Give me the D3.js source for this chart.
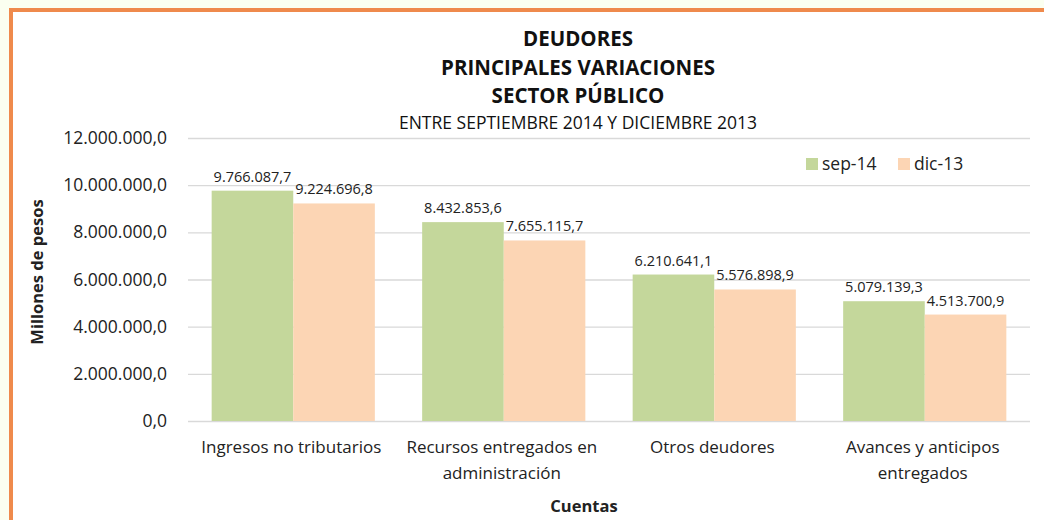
<!DOCTYPE html>
<html>
<head>
  <script src="https://d3js.org/d3.v7.min.js"></script>
  <style>
    body { margin: 0; background: #fbfff0; }
    svg { display: block; font-family: "Open Sans", Lato, sans-serif; }
  </style>
</head>
<body>
  <script>
    var width = 1044, height = 520;

    var categories = [["Ingresos no tributarios"], ["Recursos entregados en", "administración"], ["Otros deudores"], ["Avances y anticipos", "entregados"]];
    var seriesNames = ["sep-14", "dic-13"];
    var sep14 = [9766087.7, 8432853.6, 6210641.1, 5079139.3];
    var dic13 = [9224696.8, 7655115.7, 5576898.9, 4513700.9];
    var yTicks = [0, 2000000, 4000000, 6000000, 8000000, 10000000, 12000000];
    var colors = ["#c4d79b", "#fcd5b4"];

    var fmt = function(v) {
      var s = d3.format(",.1f")(v);
      return s.replace(/,/g, "#").replace(".", ",").replace(/#/g, ".");
    };

    var margin = {left: 188, right: 14, top: 138, bottom: 99};
    var font = '"Open Sans", Lato, sans-serif';

    var svg = d3.select("body").append("svg").attr("width", width).attr("height", height);
    svg.append("rect").attr("x", 0).attr("y", 0).attr("width", width).attr("height", height).attr("fill", "#fbfff0");
    svg.append("rect").attr("x", 11).attr("y", 10).attr("width", width).attr("height", height).attr("fill", "#fff")
      .attr("stroke", "#ef8a4c").attr("stroke-width", 4);

    var x = d3.scaleBand().domain(d3.range(categories.length)).range([margin.left, width - margin.right]);
    var xs = d3.scaleBand().domain(d3.range(2)).range([0, x.bandwidth()]).paddingOuter(0.29);
    var y = d3.scaleLinear().domain([0, 12000000]).range([height - margin.bottom, margin.top]);

    // grid + y labels
    var yAxis = d3.axisLeft(y).tickValues(yTicks).tickSize(-(width - margin.right - margin.left)).tickFormat(fmt).tickPadding(20);
    var gy = svg.append("g").attr("transform", "translate(" + margin.left + ",0)").call(yAxis)
      .attr("font-family", font).attr("font-size", 17.5);
    gy.select(".domain").remove();
    gy.selectAll(".tick line").attr("stroke", "#d9d9d9").attr("stroke-width", 1.3);
    gy.selectAll(".tick text").attr("fill", "#222").attr("x", -21);

    var series = [sep14, dic13];
    series.forEach(function(vals, si) {
      var g = svg.append("g");
      g.selectAll("rect").data(vals).enter().append("rect")
        .attr("x", function(d, i) { return x(i) + xs(si); })
        .attr("width", xs.bandwidth())
        .attr("y", function(d) { return y(d); })
        .attr("height", function(d) { return y(0) - y(d); })
        .attr("fill", colors[si]);
      g.selectAll("text").data(vals).enter().append("text")
        .attr("x", function(d, i) { return x(i) + xs(si) + xs.bandwidth() / 2; })
        .attr("y", function(d) { return y(d) - 9; })
        .attr("text-anchor", "middle").attr("font-size", 14.5).attr("fill", "#222")
        .text(function(d) { return fmt(d); });
    });

    // category labels
    var cl = svg.append("g");
    categories.forEach(function(lines, i) {
      var t = cl.append("text").attr("text-anchor", "middle").attr("font-size", 17).attr("fill", "#222");
      lines.forEach(function(line, j) {
        t.append("tspan").attr("x", x(i) + x.bandwidth() / 2 - 2).attr("y", 453 + j * 26).text(line);
      });
    });

    // axis titles
    svg.append("text").attr("x", 584).attr("y", 512).attr("text-anchor", "middle")
      .attr("font-size", 16.5).attr("font-weight", "bold").attr("fill", "#222").text("Cuentas");
    svg.append("text").attr("transform", "translate(43,272) rotate(-90)").attr("text-anchor", "middle")
      .attr("font-size", 16.5).attr("font-weight", "bold").attr("fill", "#222").text("Millones de pesos");

    // titles
    var titles = ["DEUDORES", "PRINCIPALES VARIACIONES", "SECTOR PÚBLICO"];
    titles.forEach(function(t, i) {
      svg.append("text").attr("x", 578).attr("y", 46 + i * 28.5).attr("text-anchor", "middle")
        .attr("font-size", 20.5).attr("font-weight", "bold").attr("fill", "#111").text(t);
    });
    svg.append("text").attr("x", 578).attr("y", 129).attr("text-anchor", "middle")
      .attr("font-size", 17.5).attr("fill", "#111").text("ENTRE SEPTIEMBRE 2014 Y DICIEMBRE 2013");

    // legend
    var lx = [806, 898];
    seriesNames.forEach(function(n, i) {
      svg.append("rect").attr("x", lx[i]).attr("y", 158).attr("width", 12).attr("height", 12).attr("fill", colors[i]);
      svg.append("text").attr("x", lx[i] + 16).attr("y", 170).attr("font-size", 17.5).attr("fill", "#222").text(n);
    });
  </script>
</body>
</html>
